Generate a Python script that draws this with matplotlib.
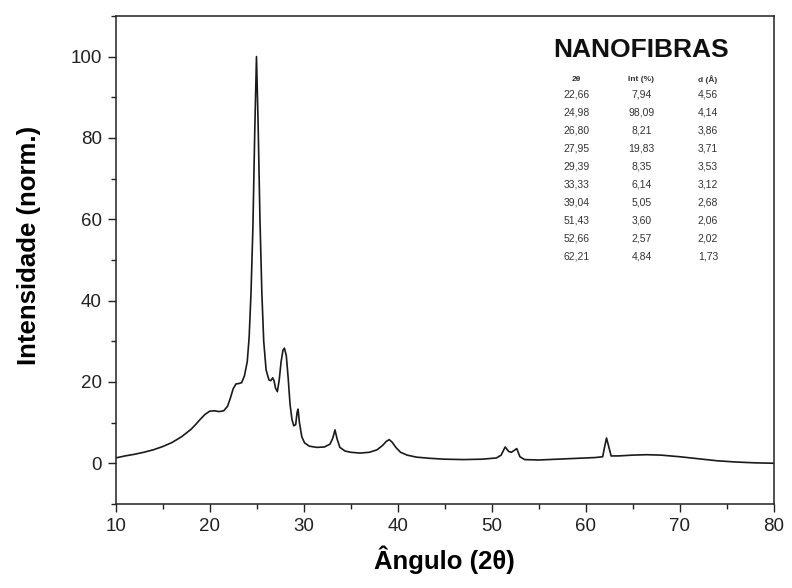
import matplotlib
matplotlib.use("Agg")
import matplotlib.pyplot as plt
from matplotlib.ticker import MultipleLocator

plt.rcParams['font.family'] = ['Liberation Sans', 'DejaVu Sans']

# Diffractogram (2theta in degrees, normalised intensity)
two_theta = [10.0, 11.0, 12.0, 13.0, 14.0, 15.0, 16.0, 17.0, 18.0, 18.5, 19.0, 19.5,
             20.0, 20.5, 21.0, 21.5, 21.9, 22.2, 22.5, 22.8, 23.1, 23.4, 23.7, 24.0,
             24.2, 24.4, 24.6, 24.8, 24.98, 25.15, 25.35, 25.55, 25.75, 26.0, 26.3,
             26.5, 26.7, 26.85, 27.0, 27.2, 27.4, 27.6, 27.8, 27.95, 28.15, 28.35,
             28.55, 28.75, 28.95, 29.15, 29.3, 29.4, 29.55, 29.8, 30.1, 30.6, 31.4,
             32.2, 32.8, 33.1, 33.33, 33.55, 33.85, 34.4, 35.0, 36.0, 37.0, 37.8,
             38.4, 38.8, 39.1, 39.4, 39.8, 40.3, 41.0, 42.0, 43.5, 45.0, 47.0, 49.0,
             50.5, 51.0, 51.43, 51.8, 52.1, 52.66, 53.0, 53.5, 55.0, 57.0, 59.0,
             61.0, 61.8, 62.05, 62.21, 62.4, 62.7, 63.5, 65.0, 66.5, 68.0, 70.0,
             72.0, 74.0, 76.0, 78.0, 80.0]
intensity = [1.3, 1.8, 2.2, 2.7, 3.3, 4.1, 5.1, 6.5, 8.3, 9.5, 10.8, 12.0,
             12.8, 12.9, 12.7, 12.9, 14.0, 16.0, 18.3, 19.5, 19.6, 19.8, 21.5, 25.0,
             31.0, 42.0, 58.0, 82.0, 100.0, 84.0, 60.0, 42.0, 30.0, 23.0, 20.5,
             20.3, 21.0, 20.3, 18.5, 17.6, 20.5, 25.0, 27.8, 28.3, 26.5, 21.0,
             14.5, 10.8, 9.2, 9.5, 12.5, 13.3, 10.0, 6.5, 5.0, 4.2, 3.9,
             4.0, 4.7, 6.2, 8.2, 6.0, 3.9, 3.0, 2.7, 2.5, 2.7, 3.3,
             4.4, 5.4, 5.8, 5.2, 3.9, 2.7, 2.0, 1.5, 1.2, 1.0, 0.9, 1.0,
             1.3, 2.0, 4.0, 2.9, 2.7, 3.6, 1.6, 0.9, 0.8, 1.0, 1.2,
             1.4, 1.6, 4.5, 6.2, 4.5, 1.8, 1.8, 2.0, 2.1, 2.0, 1.6,
             1.1, 0.6, 0.3, 0.1, 0.0]

# Indexed reflections
peak_2theta = [22.66, 24.98, 26.80, 27.95, 29.39, 33.33, 39.04, 51.43, 52.66, 62.21]
peak_int = [7.94, 98.09, 8.21, 19.83, 8.35, 6.14, 5.05, 3.60, 2.57, 4.84]
peak_d = [4.56, 4.14, 3.86, 3.71, 3.53, 3.12, 2.68, 2.06, 2.02, 1.73]
table_headers = ["2θ", "Int (%)", "d (Å)"]
table_title = "NANOFIBRAS"

fig = plt.figure(figsize=(7.92, 5.88), dpi=100)
ax = fig.add_axes([0.146, 0.143, 0.831, 0.830])

ax.plot(two_theta, intensity, color='#1a1a1a', lw=1.2)

ax.set_xlim(10, 80)
ax.set_ylim(-10, 110)
ax.xaxis.set_major_locator(MultipleLocator(10))
ax.xaxis.set_minor_locator(MultipleLocator(5))
ax.yaxis.set_major_locator(MultipleLocator(20))
ax.yaxis.set_minor_locator(MultipleLocator(10))
ax.tick_params(which='both', direction='out', top=False, right=False,
               colors='#222222', width=1.0)
ax.tick_params(which='major', length=6, labelsize=13.5, pad=4)
ax.tick_params(which='minor', length=3.5)
for lbl in ax.get_xticklabels() + ax.get_yticklabels():
    lbl.set_color('#222222')
for s in ax.spines.values():
    s.set_linewidth(1.1)
    s.set_color('#222222')

ax.set_xlabel("Ângulo (2θ)", fontsize=18.5, fontweight='bold', labelpad=8)
ax.set_ylabel("Intensidade (norm.)", fontsize=18.5, fontweight='bold')
ax.yaxis.set_label_coords(-0.113, 0.53)

# Reflection table in the upper right corner
col_x = [0.700, 0.799, 0.900]
ax.text(0.799, 0.930, table_title, transform=ax.transAxes, ha='center', va='center',
        fontsize=19, fontweight='bold', color='#111111')
y0 = 0.869
for cx, h in zip(col_x, table_headers):
    ax.text(cx, y0, h, transform=ax.transAxes, ha='center', va='center',
            fontsize=6, fontweight='bold', color='#333333')
row_h = 0.0368
for i, (t, it, d) in enumerate(zip(peak_2theta, peak_int, peak_d)):
    y = y0 - 0.031 - i * row_h
    vals = [f"{t:.2f}", f"{it:.2f}", f"{d:.2f}"]
    for cx, v in zip(col_x, vals):
        ax.text(cx, y, v.replace('.', ','), transform=ax.transAxes, ha='center',
                va='center', fontsize=7.5, color='#333333')

fig.savefig("out.png", dpi=100)
